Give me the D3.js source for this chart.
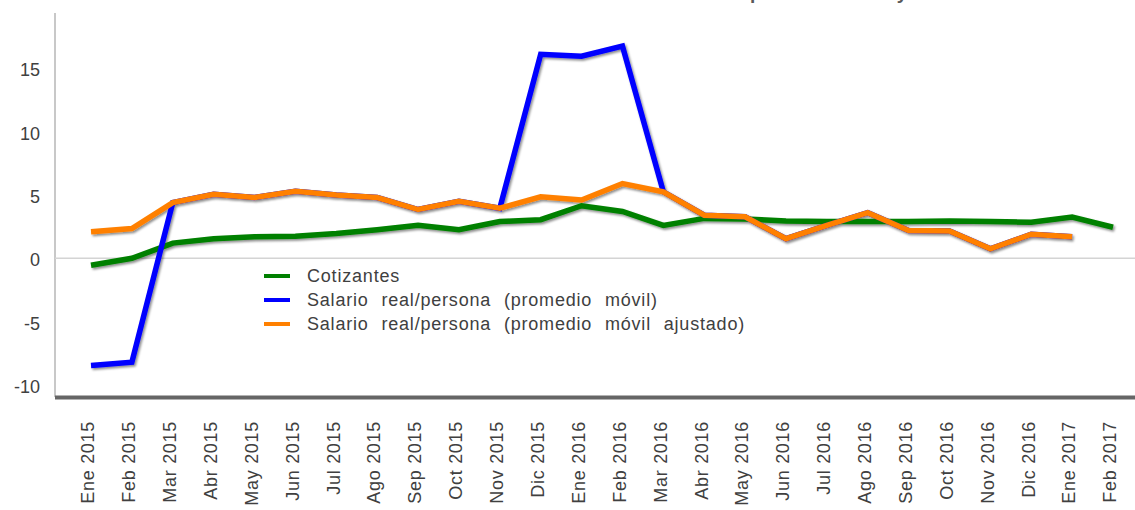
<!DOCTYPE html>
<html>
<head>
<meta charset="utf-8">
<script src="https://cdn.jsdelivr.net/npm/d3@7"></script>
<style>
  body { margin: 0; background: #fff; }
  svg { display: block; font-family: "Liberation Sans", Arial, sans-serif; }
</style>
</head>
<body>
<svg id="chart" width="1135" height="510"></svg>
<script>
// months on the x axis
const months = ['Ene 2015', 'Feb 2015', 'Mar 2015', 'Abr 2015', 'May 2015', 'Jun 2015',
    'Jul 2015', 'Ago 2015', 'Sep 2015', 'Oct 2015', 'Nov 2015', 'Dic 2015',
    'Ene 2016', 'Feb 2016', 'Mar 2016', 'Abr 2016', 'May 2016', 'Jun 2016',
    'Jul 2016', 'Ago 2016', 'Sep 2016', 'Oct 2016', 'Nov 2016', 'Dic 2016',
    'Ene 2017', 'Feb 2017']

const cotizantes = [-0.55, 0.0, 1.2, 1.55, 1.7, 1.75, 1.95, 2.25, 2.6, 2.25, 2.9, 3.05,
    4.15, 3.7, 2.6, 3.15, 3.1, 2.95, 2.9, 2.9, 2.9, 2.95, 2.9, 2.85, 3.25, 2.45]

const salarioMovil = [-8.45, -8.2, 4.4, 5.05, 4.8, 5.3, 5.0, 4.8, 3.85, 4.5, 3.95, 16.1,
    15.95, 16.75, 5.25, 3.4, 3.28, 1.55, 2.6, 3.6, 2.2, 2.15, 0.75, 1.9, 1.7, null]

const salarioAjustado = [2.1, 2.35, 4.4, 5.05, 4.8, 5.3, 5.0, 4.8, 3.85, 4.5, 3.95, 4.85,
    4.6, 5.9, 5.25, 3.4, 3.28, 1.55, 2.6, 3.6, 2.2, 2.15, 0.75, 1.9, 1.7, null]

const yTicks = [-10, -5, 0, 5, 10, 15]

const series = [
    {name: 'Cotizantes', color: '#008000', values: cotizantes},
    {name: 'Salario real/persona (promedio móvil)', color: '#0000ff', values: salarioMovil},
    {name: 'Salario real/persona (promedio móvil ajustado)', color: '#ff8000', values: salarioAjustado}
]

const svg = d3.select('#chart')
const textColor = '#404040'

// drop shadow under the lines
const defs = svg.append('defs')
defs.append('filter')
    .attr('id', 'shadow')
    .attr('x', '-5%').attr('y', '-5%')
    .attr('width', '110%').attr('height', '110%')
    .append('feDropShadow')
    .attr('dx', 1.5).attr('dy', 1.8)
    .attr('stdDeviation', 0.9)
    .attr('flood-color', '#000')
    .attr('flood-opacity', 0.45)

const x = d3.scalePoint().domain(months).range([91, 1113])
const y = d3.scaleLinear().domain([-11, 19.4]).range([397.7, 12.5])

// title, cut off at the top of the picture: only descenders show
const title = svg.append('text')
    .attr('y', -1)
    .attr('font-size', '19px')
    .attr('font-weight', 'bold')
    .attr('fill', '#595959')
    .text('Crecimiento de cotizantes vs salario real promedio móvil y total')
const pIndex = title.text().indexOf('promedio')
const pOffset = title.node().getSubStringLength(0, pIndex)
title.attr('x', 750 - pOffset)

// y axis line and zero line
svg.append('line')
    .attr('x1', 55).attr('x2', 55)
    .attr('y1', 13).attr('y2', 397)
    .attr('stroke', '#c8c8c8').attr('stroke-width', 2)

svg.append('line')
    .attr('x1', 55).attr('x2', 1135)
    .attr('y1', y(0)).attr('y2', y(0))
    .attr('stroke', '#d4d4d4').attr('stroke-width', 1.5)

// y tick labels
svg.append('g')
    .selectAll('text')
    .data(yTicks)
    .join('text')
    .attr('x', 40)
    .attr('y', d => y(d))
    .attr('dy', '0.45em')
    .attr('text-anchor', 'end')
    .attr('font-size', '18px')
    .attr('fill', textColor)
    .text(d => d)

// the lines
const line = d3.line()
    .defined(d => d !== null)
    .x((d, i) => x(months[i]))
    .y(d => y(d))

svg.append('g')
    .attr('filter', 'url(#shadow)')
    .selectAll('path')
    .data(series)
    .join('path')
    .attr('d', d => line(d.values))
    .attr('fill', 'none')
    .attr('stroke', d => d.color)
    .attr('stroke-width', 5.5)
    .attr('stroke-linejoin', 'miter')

// x axis line
svg.append('line')
    .attr('x1', 55).attr('x2', 1135)
    .attr('y1', 397.5).attr('y2', 397.5)
    .attr('stroke', '#666').attr('stroke-width', 4)

// x tick labels, rotated
svg.append('g')
    .selectAll('text')
    .data(months)
    .join('text')
    .attr('transform', d => `translate(${x(d) - 3},421) rotate(-90)`)
    .attr('dy', '0.35em')
    .attr('text-anchor', 'end')
    .attr('font-size', '18px')
    .attr('letter-spacing', '0.7px')
    .attr('fill', textColor)
    .text(d => d)

// legend
const legend = svg.append('g').attr('id', 'legend')
series.forEach((s, i) => {
    const ly = 276 + i * 24
    legend.append('line')
        .attr('x1', 264).attr('x2', 290)
        .attr('y1', ly).attr('y2', ly)
        .attr('stroke', s.color).attr('stroke-width', 4)
    legend.append('text')
        .attr('x', 307)
        .attr('y', ly)
        .attr('dy', '0.35em')
        .attr('font-size', '18px')
        .attr('letter-spacing', '0.8px')
        .attr('word-spacing', '7px')
        .attr('fill', textColor)
        .text(s.name)
})
</script>
</body>
</html>
